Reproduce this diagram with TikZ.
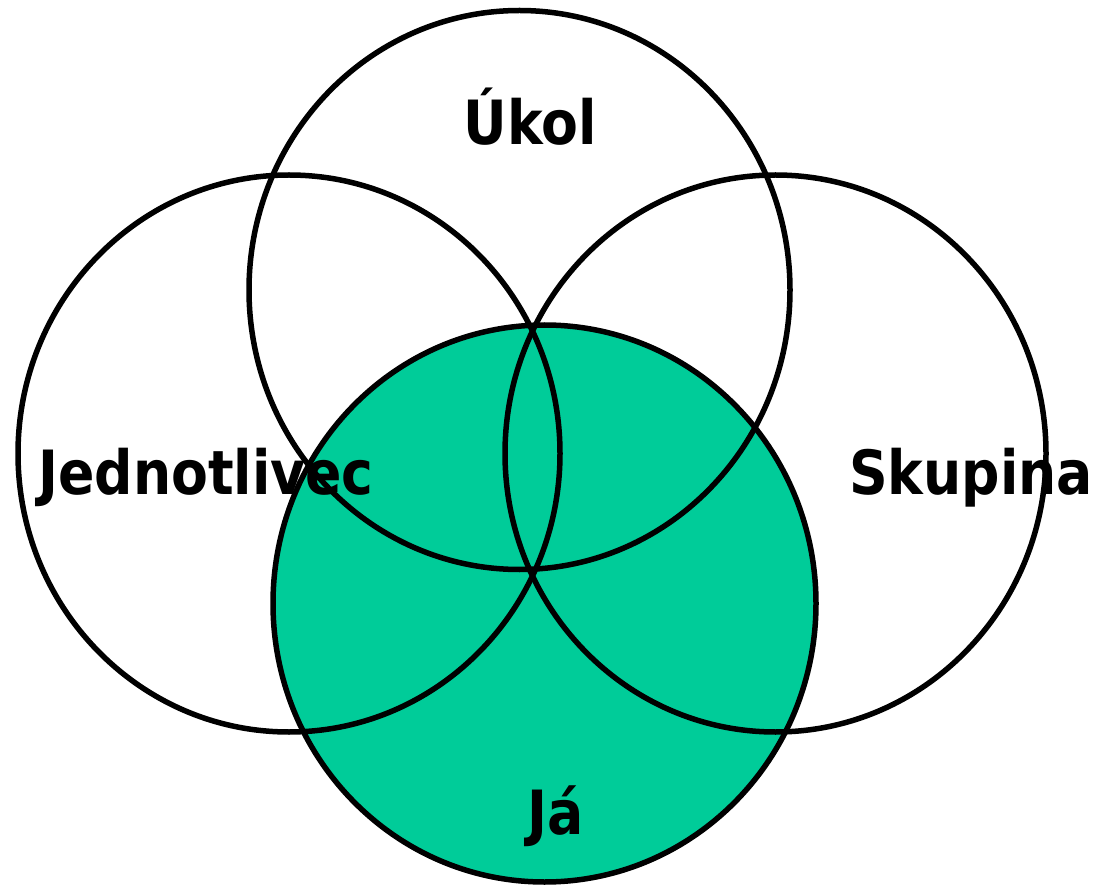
\documentclass[tikz,border=0pt]{standalone}
\usepackage{fontspec}
\setmainfont{DejaVu Sans}
\definecolor{vgreen}{HTML}{00CC99}
\begin{document}
\begin{tikzpicture}[x=1pt,y=-1pt,
  ring/.style={draw=black,line width=5.5pt},
  lbl/.style={font=\fontsize{61}{61}\selectfont\bfseries,inner sep=0pt,anchor=base,xscale=0.88}]
\useasboundingbox (0,0) rectangle (1093,885);
\fill[vgreen] (544.5,603.5) ellipse[x radius=271.5,y radius=278.5];
\node[lbl] (ukol) at (530,145) {Úkol};
\node[lbl] (jedn) at (206,494) {Jednotlivec};
\node[lbl] (skup) at (971,494) {Skupina};
\node[lbl] (ja) at (556,834) {Já};
\draw[ring] (519.5,290) ellipse[x radius=270.5,y radius=279.5];
\draw[ring] (289,453.5) ellipse[x radius=271,y radius=278.5];
\draw[ring] (775.5,453.5) ellipse[x radius=270.5,y radius=278.5];
\draw[ring] (544.5,603.5) ellipse[x radius=271.5,y radius=278.5];
\end{tikzpicture}
\end{document}
